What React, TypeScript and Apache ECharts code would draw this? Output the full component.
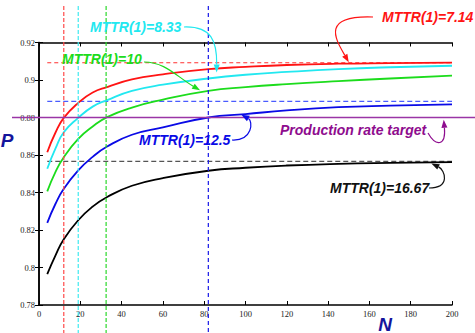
import React, { useEffect, useRef } from "react";
import * as echarts from "echarts";

// ---- data ----
const nValues = [4, 8, 12, 19, 26, 33, 45, 60, 82, 100, 120, 145, 170, 200];
const pMttr714 = [0.8615, 0.872, 0.8798, 0.8878, 0.8933, 0.8962, 0.9003, 0.903, 0.9058, 0.907, 0.908, 0.9087, 0.909, 0.9093];
const pMttr833 = [0.8527, 0.8635, 0.8721, 0.8798, 0.8858, 0.8893, 0.8942, 0.8975, 0.9008, 0.9028, 0.9043, 0.9058, 0.9068, 0.9076];
const pMttr10 = [0.8406, 0.851, 0.8588, 0.8686, 0.8752, 0.8802, 0.8853, 0.8895, 0.8942, 0.8962, 0.8978, 0.8994, 0.9008, 0.9023];
const pMttr125 = [0.8238, 0.834, 0.842, 0.8518, 0.859, 0.8645, 0.8708, 0.8747, 0.88, 0.8818, 0.8838, 0.8855, 0.8863, 0.887];
const pMttr1667 = [0.7965, 0.8065, 0.8151, 0.8252, 0.8325, 0.8376, 0.8436, 0.8477, 0.8516, 0.8532, 0.8544, 0.8553, 0.8558, 0.8562];

const asymptotes = [0.9092, 0.8886, 0.8566]; // red, blue, black dashed
const asymptoteRange = [4, 200];
const target = 0.88;
const crossingN = [12, 19, 32.5, 82]; // red, cyan, green, blue
const labels = ["MTTR(1)=7.14", "MTTR(1)=8.33", "MTTR(1)=10", "MTTR(1)=12.5", "MTTR(1)=16.67", "Production rate target"];

const RED = "#ff1414";
const CYAN = "#22e8f0";
const GREEN = "#1cdc1c";
const BLUE = "#0a0ae6";
const BLACK = "#000000";
const PURPLE = "#8e0c8e";

const pairs = (ys: number[]) => nValues.map((n, i) => [n, ys[i]]);

function curve(name: string, ys: number[], color: string) {
  return {
    name,
    type: "line",
    data: pairs(ys),
    smooth: 0.5,
    showSymbol: false,
    symbol: "none",
    lineStyle: { color, width: 1.8 },
    z: 3,
  };
}

function asym(v: number, color: string, dash: number[]) {
  return {
    type: "line",
    data: asymptoteRange.map((n) => [n, v]),
    showSymbol: false,
    symbol: "none",
    lineStyle: { color, width: 1.2, type: dash },
    z: 2,
  };
}

function arrow(s: number[], c1: number[], c2: number[], e: number[], color: string) {
  const dx = e[0] - c2[0];
  const dy = e[1] - c2[1];
  const len = Math.hypot(dx, dy) || 1;
  const ux = dx / len;
  const uy = dy / len;
  const L = 8;
  const W = 3;
  const bx = e[0] - ux * L;
  const by = e[1] - uy * L;
  return [
    {
      type: "bezierCurve",
      shape: { x1: s[0], y1: s[1], cpx1: c1[0], cpy1: c1[1], cpx2: c2[0], cpy2: c2[1], x2: bx, y2: by },
      style: { stroke: color, lineWidth: 1.2, fill: null },
      z: 10,
    },
    {
      type: "polygon",
      shape: { points: [[e[0], e[1]], [bx - uy * W, by + ux * W], [bx + uy * W, by - ux * W]] },
      style: { fill: color },
      z: 10,
    },
  ];
}

function label(text: string, x: number, y: number, color: string, size = 14) {
  return {
    type: "text",
    x,
    y,
    z: 10,
    style: {
      text,
      fill: color,
      font: `italic bold ${size}px "Liberation Sans", Arial, sans-serif`,
      textAlign: "left",
      textVerticalAlign: "middle",
      align: "left",
      verticalAlign: "middle",
    },
  };
}

export default function App() {
  const ref = useRef<HTMLDivElement>(null);
  useEffect(() => {
    const chart = echarts.init(ref.current!, null, { renderer: "svg" });
    const axisFont = { fontFamily: '"Liberation Serif", "Times New Roman", serif', fontSize: 8.5, color: "#222" };
    const xCommon = { type: "value", min: 0, max: 200, interval: 20 };
    const yCommon = { type: "value", min: 0.78, max: 0.92, interval: 0.02 };
    const axLine = { show: true, lineStyle: { color: "#000", width: 1.5 } };
    const tick = { show: true, inside: true, length: 4, lineStyle: { color: "#000", width: 1 } };
    chart.setOption({
      animation: false,
      backgroundColor: "#fff",
      grid: { left: 39, right: 23, top: 42.5, bottom: 28, containLabel: false },
      xAxis: [
        { ...xCommon, position: "bottom", axisLine: axLine, axisTick: tick, splitLine: { show: false }, axisLabel: { ...axisFont, margin: 4 } },
        { ...xCommon, position: "top", axisLine: axLine, axisTick: tick, splitLine: { show: false }, axisLabel: { show: false } },
      ],
      yAxis: [
        { ...yCommon, position: "left", axisLine: axLine, axisTick: tick, splitLine: { show: false }, axisLabel: { ...axisFont, margin: 4 } },
        { ...yCommon, position: "right", axisLine: axLine, axisTick: tick, splitLine: { show: false }, axisLabel: { show: false } },
      ],
      series: [
        asym(asymptotes[0], "#ff3030", [4, 3]),
        asym(asymptotes[1], "#4a5cff", [5, 3]),
        asym(asymptotes[2], "#555555", [5, 3]),
        curve(labels[0], pMttr714, RED),
        curve(labels[1], pMttr833, CYAN),
        curve(labels[2], pMttr10, GREEN),
        curve(labels[3], pMttr125, BLUE),
        curve(labels[4], pMttr1667, BLACK),
      ],
    });

    const px = (n: number, p: number) => chart.convertToPixel({ seriesIndex: 3 }, [n, p]) as number[];
    const W = 475;
    const H = 333;
    const vColors = ["#ff4a4a", "#3eeaf0", "#2bd82b", "#1818e8"];
    const vDash = [[4, 2], [4, 2], [4, 2], [4, 3]];
    const graphics: any[] = [];
    crossingN.forEach((n, i) => {
      const x = px(n, target)[0];
      graphics.push({
        type: "line",
        shape: { x1: x, y1: 6, x2: x, y2: H },
        style: { stroke: vColors[i], lineWidth: 1.2, lineDash: vDash[i] },
        z: 4,
      });
    });
    const ty = px(0, target)[1];
    graphics.push({
      type: "line",
      shape: { x1: 12, y1: ty, x2: W, y2: ty },
      style: { stroke: "#9a35a6", lineWidth: 1.5 },
      z: 5,
    });

    // annotations
    graphics.push(label(labels[1], 90, 27, CYAN));
    graphics.push(...arrow([184, 27], [212, 26], [217, 42], px(86, 0.904), CYAN));
    graphics.push(label(labels[2], 62, 59, GREEN));
    graphics.push(...arrow([144, 62], [165, 62], [176, 76], px(78, 0.8945), GREEN));
    graphics.push(label(labels[0], 382, 17, RED));
    graphics.push(...arrow([373, 17], [320, 15], [336, 40], px(150, 0.9095), RED));
    graphics.push(label(labels[3], 139, 140, BLUE));
    graphics.push(...arrow([232, 140], [253, 141], [253, 121], px(98, 0.8815), BLUE));
    graphics.push(label(labels[5], 280, 130, PURPLE));
    graphics.push(...arrow([428, 133], [436, 147], [446, 146], px(196, 0.8788), PURPLE));
    graphics.push(label(labels[4], 330, 188, "#111111"));
    graphics.push(...arrow([429, 188], [451, 188], [445, 170], px(190, 0.8555), "#111111"));

    // axis titles
    graphics.push({
      type: "text",
      x: 7,
      y: 140,
      z: 10,
      style: { text: "P", fill: "#14149c", font: 'italic bold 19px "Liberation Sans", Arial, sans-serif', textAlign: "center", textVerticalAlign: "middle", align: "center", verticalAlign: "middle" },
    });
    graphics.push({
      type: "text",
      x: 385,
      y: 324,
      z: 10,
      style: { text: "N", fill: "#14149c", font: 'italic bold 19px "Liberation Sans", Arial, sans-serif', textAlign: "center", textVerticalAlign: "middle", align: "center", verticalAlign: "middle" },
    });

    chart.setOption({ graphic: graphics });
    return () => chart.dispose();
  }, []);
  return <div ref={ref} style={{ position: "fixed", left: 0, top: 0, width: 475, height: 333, background: "#fff" }} />;
}
